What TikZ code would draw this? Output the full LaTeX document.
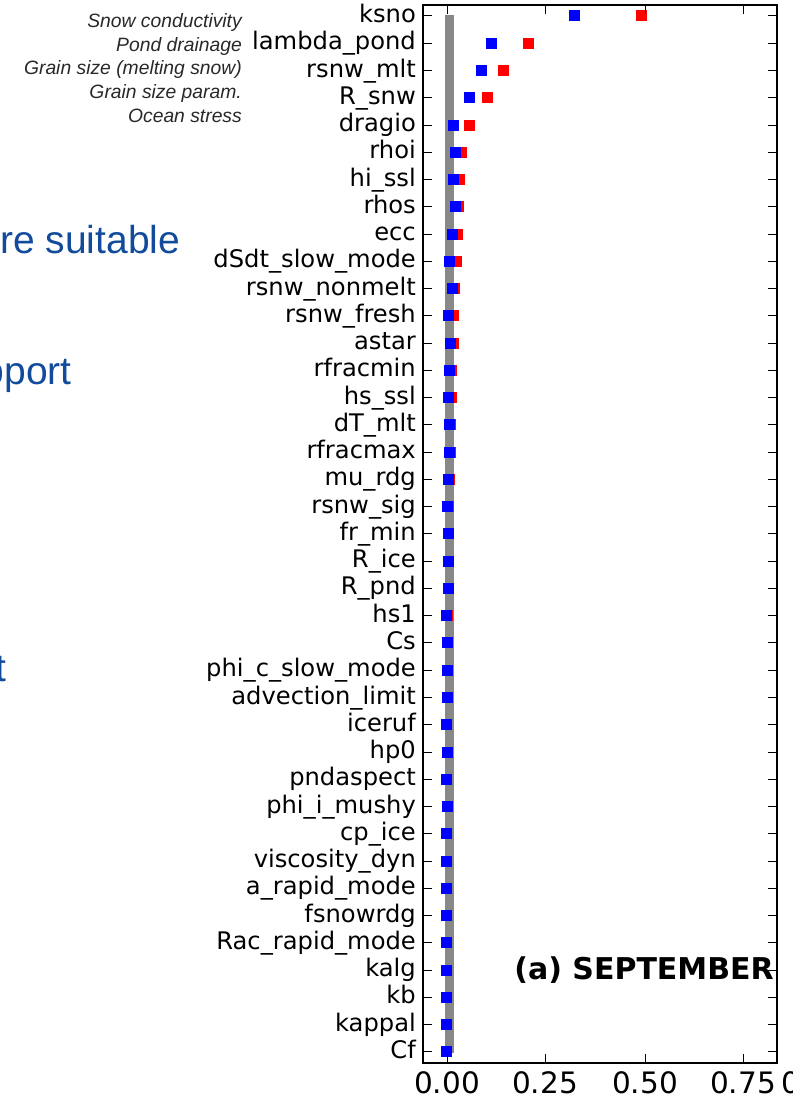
\documentclass[tikz,border=0pt]{standalone}
\usepackage{fontspec}
\setmainfont{DejaVu Sans}
\newfontfamily\arialf{Liberation Sans}
\definecolor{slideblue}{RGB}{18,75,155}
\definecolor{bargray}{RGB}{136,136,136}
\definecolor{annot}{RGB}{40,40,40}
\begin{document}
\begin{tikzpicture}[x=1pt,y=-1pt,
  plab/.style={anchor=base east, inner sep=0pt, font=\fontsize{24.2}{28}\selectfont, text=black},
  annlab/.style={anchor=base east, inner sep=0pt, font=\arialf\itshape\fontsize{19.3}{21}\selectfont, text=annot},
  slidetxt/.style={inner sep=0pt, font=\arialf\fontsize{39}{42}\selectfont, text=slideblue},
  ticklab/.style={anchor=base, inner sep=0pt, font=\fontsize{29.5}{32}\selectfont},
  bmk/.style={rectangle, fill=blue, draw=none, minimum size=11pt, inner sep=0pt},
  rmk/.style={rectangle, fill=red, draw=none, minimum size=11pt, inner sep=0pt},
  tickln/.style={line width=1pt, black}]
\useasboundingbox (0,0) rectangle (792,1097);
\clip (0,0) rectangle (792,1097);

% slide text cut at left edge
\node[slidetxt, anchor=base west] (s1) at (0,253) {re suitable};
\node[slidetxt, anchor=base east] (s2) at (72,384) {pport};
\node[slidetxt, anchor=base east] (s3) at (7,681) {t};

% annotations
\node[annlab] (a1) at (242,27.5) {Snow conductivity};
\node[annlab] (a2) at (242,51.3) {Pond drainage};
\node[annlab] (a3) at (242,75) {Grain size (melting snow)};
\node[annlab] (a4) at (242,98.8) {Grain size param.};
\node[annlab] (a5) at (242,122.5) {Ocean stress};

% grey bar
\fill[bargray] (445,15) rectangle (454,1053);

% rows
\foreach \i/\lab/\bx/\rx in {
 1/ksno/574/641, 2/lambda\_pond/491/528, 3/rsnw\_mlt/481/503, 4/R\_snw/469/487,
 5/dragio/453/469, 6/rhoi/455/461, 7/hi\_ssl/453/459, 8/rhos/455/458,
 9/ecc/452/457.5, 10/dSdt\_slow\_mode/449/456.5, 11/rsnw\_nonmelt/452/454.5,
 12/rsnw\_fresh/448/453, 13/astar/450/453, 14/rfracmin/449/451, 15/hs\_ssl/448/451,
 16/dT\_mlt/449/450, 17/rfracmax/449/450, 18/mu\_rdg/448/449, 19/rsnw\_sig/447/448,
 20/fr\_min/448/448, 21/R\_ice/448/448, 22/R\_pnd/448/448, 23/hs1/446/447,
 24/Cs/447/447, 25/phi\_c\_slow\_mode/447/447, 26/advection\_limit/447/447,
 27/iceruf/446/446, 28/hp0/447/447, 29/pndaspect/446/446, 30/phi\_i\_mushy/447/447,
 31/cp\_ice/446/446, 32/viscosity\_dyn/446/446, 33/a\_rapid\_mode/446/446,
 34/fsnowrdg/446/446, 35/Rac\_rapid\_mode/446/446, 36/kalg/446/446, 37/kb/446/446,
 38/kappal/446/446, 39/Cf/446/446}{
  \pgfmathsetmacro\yy{16+(\i-1)*27.26}
  \node[plab] (lab\i) at (416,\yy+6.5) {\lab};
  \node[rmk] (r\i) at (\rx,\yy) {};
  \node[bmk] (b\i) at (\bx,\yy) {};
  \draw[tickln] (423,\yy) -- (432,\yy);
  \draw[tickln] (768,\yy) -- (777,\yy);
}

% x ticks
\foreach \xx/\t in {447/0.00, 545/0.25, 645/0.50, 743/0.75}{
  \draw[tickln] (\xx,5) -- (\xx,14);
  \draw[tickln] (\xx,1063) -- (\xx,1054);
  \node[ticklab] (t\xx) at (\xx,1093) {\t};
}
\node[ticklab, anchor=base west] (tcut) at (781,1093) {0};

% frame
\draw[line width=1.4pt] (423,5) rectangle (777,1063);

% panel title
\node[anchor=base east, inner sep=0pt, font=\bfseries\fontsize{30}{33}\selectfont] (title) at (774,979) {(a) SEPTEMBER};
\end{tikzpicture}
\end{document}
